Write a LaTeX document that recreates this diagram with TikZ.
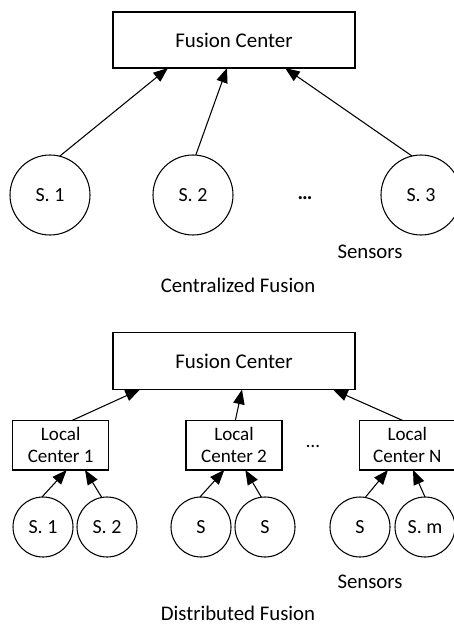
\documentclass[tikz,border=0pt]{standalone}
\usepackage{fontspec}
\setmainfont{Carlito}
\usetikzlibrary{arrows.meta,calc}
\begin{document}
\begin{tikzpicture}[x=0.75pt,y=-0.75pt,
  every node/.style={inner sep=0pt,outer sep=0pt},
  box/.style={draw,line width=0.8pt,font=\fontsize{15.7pt}{18pt}\selectfont},
  lbox/.style={draw,line width=0.8pt,minimum width=72pt,minimum height=37pt,align=center,font=\fontsize{14.3pt}{16.3pt}\selectfont},
  bigsens/.style={draw,circle,line width=0.8pt,minimum size=60pt,font=\fontsize{15pt}{18pt}\selectfont},
  smallsens/.style={draw,circle,line width=0.8pt,minimum size=45pt,font=\fontsize{15pt}{18pt}\selectfont},
  lbl/.style={font=\fontsize{15.6pt}{18pt}\selectfont},
  arr/.style={-{Triangle[length=11pt,width=8.5pt]},line width=0.8pt}]
\useasboundingbox (0,0) rectangle (453,624);
% ---------- Centralized ----------
\node[box,minimum width=181.5pt,minimum height=42pt] (fc1) at (234,40) {Fusion Center};
\node[bigsens] (a1) at (50,195) {S. 1};
\node[bigsens] (a2) at (193,195) {S. 2};
\node[bigsens] (a3) at (421,195) {S. 3};
\node[lbl] (dots1) at (305,198) {\textbf{…}};
\node[lbl] (sens1) at (370,252) {Sensors};
\node[lbl] (title1) at (238,285) {Centralized Fusion};
\coordinate (e1) at ($(fc1.south west)+(55,0)$);
\coordinate (e2) at ($(fc1.south west)+(114,0)$);
\coordinate (e3) at ($(fc1.south west)+(172,0)$);
\draw[arr] (a1.76) -- (e1);
\draw[arr] (a2.86) -- (e2);
\draw[arr] (a3.103) -- (e3);
% ---------- Distributed ----------
\node[box,minimum width=181.5pt,minimum height=42.75pt] (fc2) at (234,361) {Fusion Center};
\node[lbox] (l1) at (60.7,445.3) {Local\\Center 1};
\node[lbox] (l2) at (234,445.3) {Local\\Center 2};
\node[lbox] (l3) at (407.3,445.3) {Local\\Center N};
\node[lbl,font=\fontsize{14.3pt}{16pt}\selectfont] (dots2) at (313,446) {…};
\node[smallsens] (b1) at (43,527) {S. 1};
\node[smallsens] (b2) at (107,527) {S. 2};
\node[smallsens] (b3) at (201,527) {S};
\node[smallsens] (b4) at (265,527) {S};
\node[smallsens] (b5) at (360,527) {S};
\node[smallsens] (b6) at (425,527) {S. m};
\node[lbl] (sens2) at (370,582) {Sensors};
\node[lbl] (title2) at (238,613) {Distributed Fusion};
% local -> fusion
\coordinate (f1) at ($(fc2.south west)+(27,0)$);
\coordinate (f2) at ($(fc2.south west)+(129,0)$);
\coordinate (f3) at ($(fc2.south west)+(220,0)$);
\coordinate (t1) at ($(l1.north west)+(59,0)$);
\coordinate (t2) at ($(l2.north west)+(49.3,0)$);
\coordinate (t3) at ($(l3.north west)+(43.7,0)$);
\draw[arr] (t1) -- (f1);
\draw[arr] (t2) -- (f2);
\draw[arr] (t3) -- (f3);
% sensors -> local
\coordinate (g1) at ($(l1.south west)+(54,0)$);
\coordinate (g2) at ($(l1.south west)+(72.3,0)$);
\coordinate (g3) at ($(l2.south west)+(38.3,0)$);
\coordinate (g4) at ($(l2.south west)+(59.3,0)$);
\coordinate (g5) at ($(l3.south west)+(28.7,0)$);
\coordinate (g6) at ($(l3.south west)+(53.7,0)$);
\draw[arr] (b1.92) -- (g1);
\draw[arr] (b2.100) -- (g2);
\draw[arr] (b3.92) -- (g3);
\draw[arr] (b4.97) -- (g4);
\draw[arr] (b5.80) -- (g5);
\draw[arr] (b6.90) -- (g6);
\end{tikzpicture}
\end{document}
